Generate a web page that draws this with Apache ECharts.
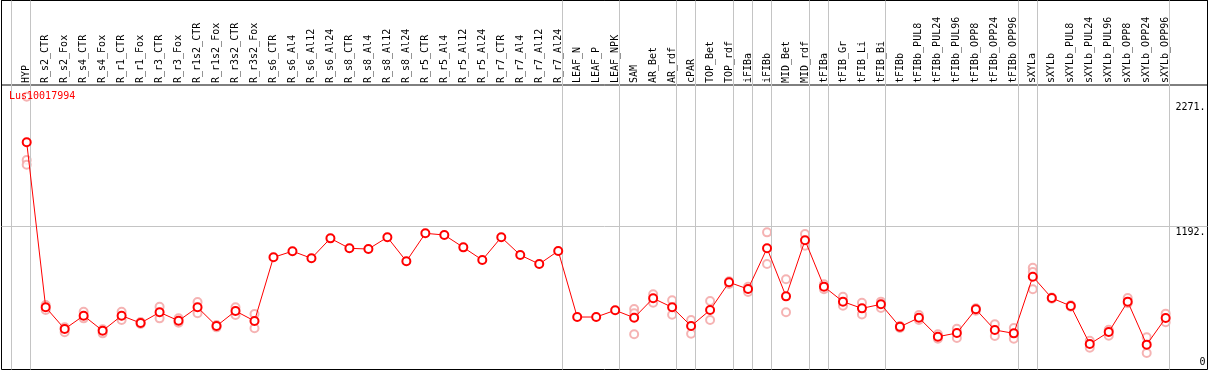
<!DOCTYPE html>
<html>
<head>
<meta charset="utf-8">
<script src="https://cdn.jsdelivr.net/npm/echarts@6/dist/echarts.min.js"></script>
<style>
html,body{margin:0;padding:0;background:#fff;}
#chart{width:1209px;height:370px;}
</style>
</head>
<body>
<div id="chart"></div>
<script>
const geneName = 'Lus10017994';
const categories = ['HYP','R_s2_CTR','R_s2_Fox','R_s4_CTR','R_s4_Fox','R_r1_CTR','R_r1_Fox','R_r3_CTR','R_r3_Fox','R_r1s2_CTR','R_r1s2_Fox','R_r3s2_CTR','R_r3s2_Fox','R_s6_CTR','R_s6_Al4','R_s6_Al12','R_s6_Al24','R_s8_CTR','R_s8_Al4','R_s8_Al12','R_s8_Al24','R_r5_CTR','R_r5_Al4','R_r5_Al12','R_r5_Al24','R_r7_CTR','R_r7_Al4','R_r7_Al12','R_r7_Al24','LEAF_N','LEAF_P','LEAF_NPK','SAM','AR_Bet','AR_rdf','cPAR','TOP_Bet','TOP_rdf','iFIBa','iFIBb','MID_Bet','MID_rdf','tFIBa','tFIB_Gr','tFIB_Li','tFIB_Bi','tFIBb','tFIBb_PUL8','tFIBb_PUL24','tFIBb_PUL96','tFIBb_OPP8','tFIBb_OPP24','tFIBb_OPP96','sXYLa','sXYLb','sXYLb_PUL8','sXYLb_PUL24','sXYLb_PUL96','sXYLb_OPP8','sXYLb_OPP24','sXYLb_OPP96'];
const meanValues = [1892,518,337,448,323,448,387,476,406,518,362,487,404,934,985,926,1092,1009,1003,1101,901,1134,1120,1017,912,1101,953,878,987,437,437,493,431,593,518,362,495,726,670,1009,609,1076,690,565,509,543,355,431,273,304,501,329,301,773,595,529,212,312,565,207,429];
const replicate1 = [2271,537,351,481,335,481,395,523,426,562,370,518,462,null,null,null,null,null,null,null,null,null,null,null,null,null,null,null,null,null,null,null,504,626,576,412,570,735,689,1142,751,1128,709,606,556,565,362,454,293,340,510,376,346,848,600,535,240,331,595,268,465];
const replicate2 = [1745,495,310,426,301,412,379,426,390,468,351,454,343,null,null,null,null,null,null,null,null,null,null,null,null,null,null,null,null,null,null,null,293,556,456,298,412,712,645,878,476,1031,668,531,459,512,345,412,257,262,490,279,257,668,590,522,182,281,551,137,393];
const replicate3 = [1705,null,null,null,null,null,null,null,null,null,null,null,null,null,null,null,null,null,null,null,null,null,null,null,null,null,null,null,null,null,null,null,468,null,null,null,null,null,null,null,null,null,null,null,null,null,null,null,null,null,null,null,null,812,null,null,null,null,null,null,null];
const groupEnds = [-1,0,28,31,34,35,37,38,39,41,42,45,52,53,60];
const yTickValues = [0,1192,2271];
const yTickLabels = ['0','1192.','2271.'];
const gridLineValue = 1192;

const FONT = 'DejaVu Sans Mono';
const chart = echarts.init(document.getElementById('chart'), null, {renderer:'canvas'});
const toData = a => a.map(v => v === null ? '-' : v);
const sepOffset = 0.21;
const repStyle = {
  type:'scatter', xAxisIndex:1, yAxisIndex:1, symbol:'emptyCircle', symbolSize:8,
  itemStyle:{color:'#f2a0a0', borderColor:'#f09898', borderWidth:1}, z:2, silent:true
};
const option = {
  animation:false,
  backgroundColor:'#fff',
  title:{text:geneName, left:9, top:91, padding:0,
    textStyle:{color:'#ff0000', fontSize:10, fontWeight:'normal', fontFamily:FONT}},
  grid:[
    {left:1.5, right:1.5, top:0.5, bottom:0.5, show:true, borderColor:'#000', borderWidth:1, backgroundColor:'transparent'},
    {left:17.21, width:1157.96, top:85, bottom:0.5, show:false},
    {left:1.5, right:1.5, top:0.5, height:84.5, show:true, borderColor:'#000', borderWidth:1, backgroundColor:'transparent'}
  ],
  xAxis:[
    {gridIndex:0, type:'value', min:-1.3275, max:62.203, show:false},
    {gridIndex:1, type:'category', data:categories, position:'top', boundaryGap:true,
      axisLine:{show:false}, axisTick:{show:false}, splitLine:{show:false},
      axisLabel:{interval:0, rotate:90, margin:2, fontSize:10, fontFamily:FONT, color:'#000'}},
    {gridIndex:2, type:'value', show:false, min:0, max:1}
  ],
  yAxis:[
    {gridIndex:0, type:'value', min:0, max:3072, position:'right',
      axisLine:{show:false}, axisTick:{show:false}, splitLine:{show:false},
      axisLabel:{customValues:yTickValues, inside:true, margin:2, fontSize:10, fontFamily:FONT, color:'#000',
        formatter:function(v){
          const i = yTickValues.indexOf(v);
          const key = i === 2 ? 't' : (i === 1 ? 'm' : 'b');
          return '{' + key + '|' + yTickLabels[i] + '}';
        },
        rich:{
          t:{fontSize:10, fontFamily:FONT, color:'#000', padding:[22,0,0,0]},
          m:{fontSize:10, fontFamily:FONT, color:'#000', padding:[12,0,0,0]},
          b:{fontSize:10, fontFamily:FONT, color:'#000', padding:[0,0,14,0]}
        }}},
    {gridIndex:1, type:'value', min:0, max:2369, show:false},
    {gridIndex:2, type:'value', show:false, min:0, max:1}
  ],
  series:[
    {type:'line', xAxisIndex:0, yAxisIndex:0, data:[], silent:true, z:1,
      markLine:{silent:true, symbol:['none','none'], animation:false, label:{show:false},
        lineStyle:{color:'#c4c4c4', width:1, type:'solid'},
        emphasis:{disabled:true},
        data:groupEnds.map(i => ({xAxis:i + sepOffset})).concat([{yAxis:gridLineValue}])}},
    Object.assign({data:toData(replicate1)}, repStyle),
    Object.assign({data:toData(replicate2)}, repStyle),
    Object.assign({data:toData(replicate3)}, repStyle),
    {type:'line', xAxisIndex:1, yAxisIndex:1, data:meanValues, z:5, silent:true,
      symbol:'emptyCircle', symbolSize:8, showAllSymbol:true,
      lineStyle:{color:'#ff0000', width:1},
      itemStyle:{color:'#ff0000', borderColor:'#ff0000', borderWidth:1.5}}
  ]
};
chart.setOption(option);
</script>
</body>
</html>
